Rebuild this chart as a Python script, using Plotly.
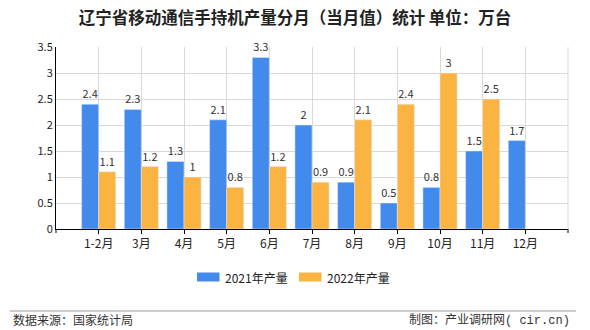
import plotly.graph_objects as go

categories = ["1-2月", "3月", "4月", "5月", "6月", "7月", "8月", "9月", "10月", "11月", "12月"]
values_2021 = [2.4, 2.3, 1.3, 2.1, 3.3, 2, 0.9, 0.5, 0.8, 1.5, 1.7]
values_2022 = [1.1, 1.2, 1, 0.8, 1.2, 0.9, 2.1, 2.4, 3, 2.5, None]
series_names = ["2021年产量", "2022年产量"]
y_ticks = [0, 0.5, 1, 1.5, 2, 2.5, 3, 3.5]
y_tick_text = ["0", "0.5", "1", "1.5", "2", "2.5", "3", "3.5"]

FONT = "Noto Sans CJK SC"
BLUE = "#428BEC"
ORANGE = "#FBB441"
GRID = "#D9D9D9"

def labels(vals):
    return ["" if v is None else f"{v:g}" for v in vals]

fig = go.Figure()
fig.add_trace(go.Bar(
    x=categories, y=values_2021, name=series_names[0], marker_color=BLUE,
    text=labels(values_2021), textposition="outside", cliponaxis=False,
    textfont=dict(family=FONT, size=11, color="#333333"), showlegend=False,
))
fig.add_trace(go.Bar(
    x=categories, y=values_2022, name=series_names[1], marker_color=ORANGE,
    text=labels(values_2022), textposition="outside", cliponaxis=False,
    textfont=dict(family=FONT, size=11, color="#333333"), showlegend=False,
))

W, H = 590, 330
L, R, T, B = 56, 22, 47, 101
pw, ph = W - L - R, H - T - B

def px(x):
    return (x - L) / pw

def py(y):
    return (H - B - y) / ph

shapes = [
    dict(type="line", xref="paper", yref="paper", x0=1, x1=1, y0=0, y1=1,
         line=dict(color=GRID, width=1)),
    dict(type="line", xref="paper", yref="paper", x0=1, x1=1, y0=0, y1=-4 / ph,
         line=dict(color="#000000", width=1)),
    dict(type="line", xref="paper", yref="paper", x0=0, x1=0, y0=0, y1=-4 / ph,
         line=dict(color="#000000", width=1)),
    dict(type="line", xref="paper", yref="paper", x0=px(10), x1=px(576),
         y0=py(311), y1=py(311), line=dict(color="#999999", width=1)),
]
annotations = [
    dict(text="数据来源：国家统计局", xref="paper", yref="paper",
         x=px(11), y=py(319), xanchor="left", yanchor="middle", showarrow=False,
         font=dict(family=FONT, size=12, color="#333333")),
    dict(text="制图：产业调研网<span style=\"font-family:'Liberation Mono'\">( cir.cn)</span>",
         xref="paper", yref="paper",
         x=px(572), y=py(319), xanchor="right", yanchor="middle", showarrow=False,
         font=dict(family=FONT, size=12, color="#333333")),
]

# custom legend (wide rectangle swatches like the reference)
legend_items = [(series_names[0], BLUE, 197), (series_names[1], ORANGE, 299)]
for name, color, x0 in legend_items:
    shapes.append(dict(type="rect", xref="paper", yref="paper",
                       x0=px(x0), x1=px(x0 + 22.5), y0=py(272.5), y1=py(281.5),
                       fillcolor=color, line=dict(width=0)))
    annotations.append(dict(text=name, xref="paper", yref="paper",
                            x=px(x0 + 25.5), y=py(277), xanchor="left", yanchor="middle",
                            showarrow=False,
                            font=dict(family=FONT, size=12, color="#222222")))

fig.update_layout(
    width=W, height=H,
    margin=dict(l=L, r=R, t=T, b=B),
    paper_bgcolor="white", plot_bgcolor="white",
    barmode="group", bargap=0.2, bargroupgap=0,
    font=dict(family=FONT, size=12, color="#333333"),
    showlegend=False,
    title=dict(
        text="<b>辽宁省移动通信手持机产量分月（当月值）统计 单位：万台</b>",
        x=0.5, xanchor="center", y=1 - 18 / H, yanchor="middle",
        font=dict(family=FONT, size=16.5, color="#222222"),
    ),
    xaxis=dict(
        type="category", range=[-1, 11],
        showgrid=True, gridcolor=GRID, gridwidth=1,
        showline=True, linecolor="#000000", linewidth=1,
        ticks="outside", ticklen=4, tickcolor="#000000",
        tickfont=dict(family=FONT, size=12, color="#222222"),
    ),
    yaxis=dict(
        range=[0, 3.5], tickvals=y_ticks, ticktext=y_tick_text,
        showgrid=True, gridcolor=GRID, gridwidth=1,
        showline=True, linecolor="#000000", linewidth=1,
        ticks="", zeroline=False,
        tickfont=dict(family=FONT, size=11, color="#222222"),
    ),
    shapes=shapes,
    annotations=annotations,
)

fig.write_html("out.html")
